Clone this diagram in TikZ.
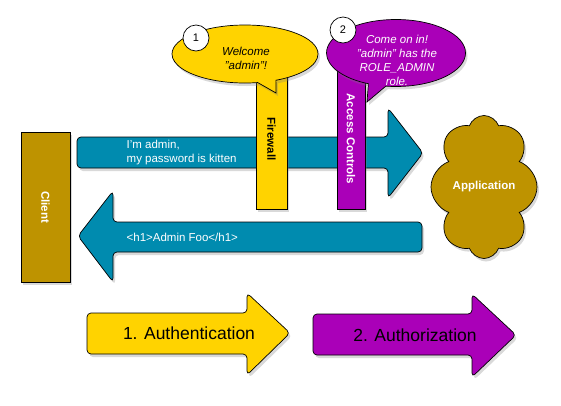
\documentclass[tikz,border=0pt]{standalone}
\usepackage{fontspec}
\setmainfont{Liberation Sans}
\usetikzlibrary{scopes,shapes.symbols,shapes.callouts,shadows}
\definecolor{clientGold}{RGB}{190,147,0}
\definecolor{requestBlue}{RGB}{0,139,175}
\definecolor{firewallYellow}{RGB}{255,211,0}
\definecolor{aclPurple}{RGB}{170,0,184}

\begin{document}
\begin{tikzpicture}[x=1pt, y=-1pt, line width=0.7pt,
    shade/.style={drop shadow={shadow xshift=2pt, shadow yshift=-3pt, opacity=0.3}}]
    \useasboundingbox (0,0) rectangle (561,405);
    % request and response arrows
    {[rounded corners=4pt]
      \draw[shade, fill=requestBlue] (77,137) -- (388,137) -- (388,108) -- (423,153) -- (388,198) -- (388,168) -- (77,168) -- cycle;
      \draw[shade, fill=requestBlue] (422,222) -- (113,222) -- (113,191) -- (78,236) -- (113,282) -- (113,252) -- (422,252) -- cycle;
      \draw[shade, fill=firewallYellow] (87,313) -- (247,313) -- (247,293) -- (290,333) -- (247,375) -- (247,354) -- (87,354) -- cycle;
      \draw[shade, fill=aclPurple] (313,314) -- (472,314) -- (472,294) -- (516,335) -- (472,377) -- (472,355) -- (313,355) -- cycle;
    }
    {[every node/.style={white, align=left, anchor=west, font=\fontsize{11.5}{14}\selectfont}]
    \node (request) at (123,153) {I'm admin,\\my password is kitten};
    \node (response) at (123,237) {<h1>Admin Foo</h1>};
    }
    {[every node/.style={font=\fontsize{17.5}{20}\selectfont}]
    \node (authn) at (189,333) {1. Authentication};
    \node (authz) at (415,335) {2. Authorization};
    }
    % client, firewall and access controls
    {[every node/.style={draw, shade, rotate=-90, inner sep=0pt, font=\bfseries\fontsize{11.5}{13}\selectfont}]
    \node[fill=clientGold, text=white, minimum width=150pt, minimum height=49pt] (client) at (45.5,207) {Client};
    \node[fill=firewallYellow, minimum width=140pt, minimum height=31pt] (firewall) at (271.5,139) {Firewall};
    \node[fill=aclPurple, text=white, minimum width=140pt, minimum height=28pt] (acl) at (351,139) {Access Controls};
    }
    \node[draw, shade, cloud, cloud puffs=8, cloud puff arc=140, aspect=0.74, inner sep=0pt, fill=clientGold,
      minimum width=106pt, minimum height=143pt] (app) at (484,187) {};
    \node[white, font=\bfseries\fontsize{11.5}{13}\selectfont] (app-text) at (app.center) {Application};
    % speech bubbles
    {[every node/.style={draw, shade, ellipse callout, inner sep=0pt}]
    \node[fill=firewallYellow, minimum width=146pt, minimum height=58pt, callout absolute pointer={(276,93)}] (fw-bubble) at (245,54) {};
    \node[fill=aclPurple, minimum width=139pt, minimum height=67pt, callout absolute pointer={(367,102)}] (acl-bubble) at (396,53) {};
    }
    {[every node/.style={align=center, font=\itshape\fontsize{11.5}{14}\selectfont}]
    \node (fw-text) at (246,58) {Welcome\\"admin"!};
    \node[white] (acl-text) at (397,60) {Come on in!\\"admin" has the\\ROLE\_ADMIN\\role.};
    }
    {[every node/.style={draw, circle, fill=white, minimum size=26pt, inner sep=0pt, font=\fontsize{11}{13}\selectfont}]
    \node (step1) at (196,38) {1};
    \node (step2) at (343,30) {2};
    }
\end{tikzpicture}
\end{document}
